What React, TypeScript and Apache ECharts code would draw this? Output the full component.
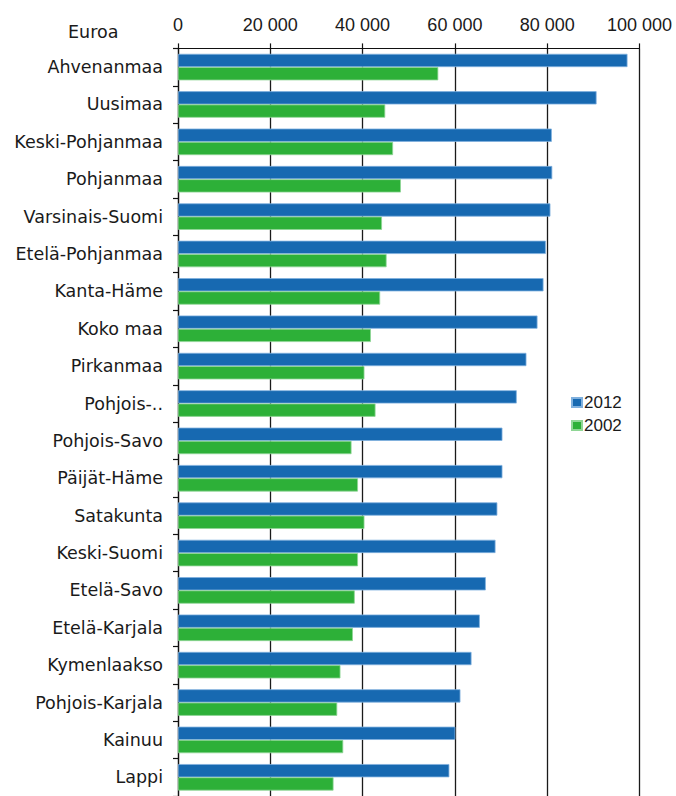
import React, { useEffect, useRef } from "react";
import * as echarts from "echarts";

const categories = [
  "Ahvenanmaa",
  "Uusimaa",
  "Keski-Pohjanmaa",
  "Pohjanmaa",
  "Varsinais-Suomi",
  "Etelä-Pohjanmaa",
  "Kanta-Häme",
  "Koko maa",
  "Pirkanmaa",
  "Pohjois-..",
  "Pohjois-Savo",
  "Päijät-Häme",
  "Satakunta",
  "Keski-Suomi",
  "Etelä-Savo",
  "Etelä-Karjala",
  "Kymenlaakso",
  "Pohjois-Karjala",
  "Kainuu",
  "Lappi",
];

const values2012 = [
  97400, 90700, 81000, 81100, 80700, 79700, 79200, 77900, 75500, 73400,
  70300, 70300, 69200, 68800, 66700, 65400, 63600, 61200, 60100, 58800,
];

const values2002 = [
  56400, 44900, 46600, 48300, 44200, 45200, 43800, 41800, 40400, 42800,
  37600, 39000, 40400, 39000, 38300, 37900, 35200, 34500, 35800, 33700,
];

const seriesNames = ["2012", "2002"];
const xTicks = { min: 0, max: 100000, interval: 20000 };
const unitLabel = "Euroa";

export default function App() {
  const ref = useRef<HTMLDivElement>(null);

  useEffect(() => {
    if (!ref.current) return;
    const chart = echarts.init(ref.current, undefined, { renderer: "svg" });
    const labelFont = "DejaVu Sans";
    chart.setOption({
      animation: false,
      backgroundColor: "#ffffff",
      grid: { left: 178, top: 48.4, width: 461.5, height: 752.6, containLabel: false },
      legend: {
        orient: "vertical",
        left: 566,
        top: 389,
        itemWidth: 10,
        itemHeight: 9,
        itemGap: 6,
        icon: "rect",
        data: seriesNames,
        textStyle: {
          fontFamily: "Liberation Sans",
          fontSize: 17,
          color: "#1a1a1a",
          padding: [0, 0, 0, -3],
        },
      },
      xAxis: {
        type: "value",
        position: "top",
        min: xTicks.min,
        max: xTicks.max,
        interval: xTicks.interval,
        axisLine: { show: true, lineStyle: { color: "#111", width: 1.2 } },
        axisTick: { show: true, length: 5, lineStyle: { color: "#111", width: 1.2 } },
        splitLine: { show: true, lineStyle: { color: "#1a1a1a", width: 1.3 } },
        axisLabel: {
          margin: 14,
          fontFamily: "Liberation Sans",
          fontSize: 18,
          color: "#1a1a1a",
          formatter: (v: number) => (v === 0 ? "0" : `${v / 1000} 000`),
        },
      },
      yAxis: {
        type: "category",
        inverse: true,
        data: categories,
        axisLine: { show: true, lineStyle: { color: "#111", width: 1.2 } },
        axisTick: { show: true, length: 5, lineStyle: { color: "#111", width: 1.2 } },
        axisLabel: {
          margin: 15,
          fontFamily: labelFont,
          fontSize: 17.5,
          color: "#1a1a1a",
        },
      },
      graphic: [
        {
          type: "text",
          left: 68,
          top: 23,
          style: {
            text: unitLabel,
            fontFamily: labelFont,
            fontSize: 17.5,
            fill: "#1a1a1a",
          },
        },
      ],
      series: [
        {
          name: seriesNames[0],
          type: "bar",
          data: values2012,
          barCategoryGap: "29%",
          barGap: "0%",
          itemStyle: { color: "#1769b1", borderColor: "#7fb0de", borderWidth: 0.8 },
        },
        {
          name: seriesNames[1],
          type: "bar",
          data: values2002,
          barCategoryGap: "29%",
          barGap: "0%",
          itemStyle: { color: "#2db038", borderColor: "#8fd695", borderWidth: 0.8 },
        },
      ],
    });
    return () => chart.dispose();
  }, []);

  return (
    <div
      ref={ref}
      style={{ position: "absolute", left: 0, top: 0, width: 676, height: 796 }}
    />
  );
}
